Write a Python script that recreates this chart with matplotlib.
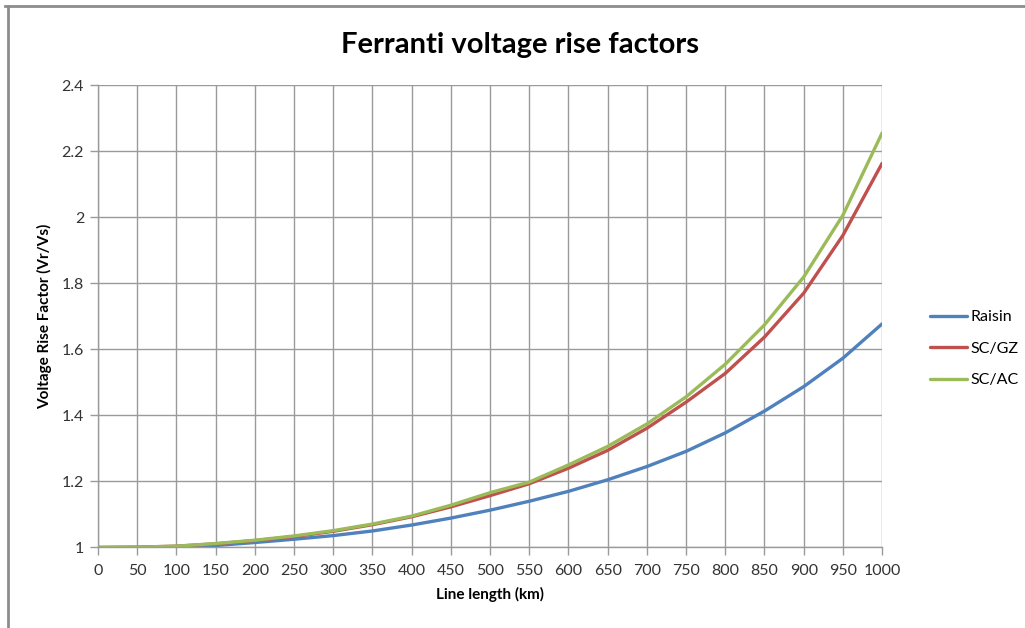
import matplotlib.pyplot as plt
from matplotlib.lines import Line2D
from matplotlib.ticker import FuncFormatter, MultipleLocator

plt.rcParams['font.family'] = ['Lato', 'DejaVu Sans']

# line length (km) and voltage rise factor Vr/Vs for each conductor type
length_km = [0, 50, 100, 150, 200, 250, 300, 350, 400, 450, 500,
             550, 600, 650, 700, 750, 800, 850, 900, 950, 1000]
raisin = [1.000, 1.000, 1.002, 1.006, 1.015, 1.025, 1.036, 1.050, 1.068, 1.089, 1.113,
          1.140, 1.170, 1.205, 1.245, 1.291, 1.347, 1.413, 1.487, 1.573, 1.677]
sc_gz = [1.000, 1.001, 1.004, 1.011, 1.021, 1.033, 1.049, 1.069, 1.093, 1.123, 1.157,
         1.193, 1.240, 1.294, 1.361, 1.440, 1.527, 1.637, 1.770, 1.945, 2.163]
sc_ac = [1.000, 1.001, 1.004, 1.012, 1.022, 1.035, 1.051, 1.071, 1.095, 1.128, 1.166,
         1.198, 1.250, 1.306, 1.374, 1.456, 1.555, 1.674, 1.819, 2.006, 2.255]

series = [("Raisin", raisin, "#4F81BD"),
          ("SC/GZ", sc_gz, "#C0504D"),
          ("SC/AC", sc_ac, "#9BBB59")]

fig = plt.figure(figsize=(10.25, 6.28), dpi=100)
ax = fig.add_axes([0.0956, 0.1282, 0.765, 0.7364])

for name, vals, col in series:
    ax.plot(length_km, vals, color=col, lw=2.4, label=name,
            solid_capstyle='round', solid_joinstyle='round')

ax.set_xlim(0, 1000)
ax.set_ylim(1, 2.4)
ax.xaxis.set_major_locator(MultipleLocator(50))
ax.yaxis.set_major_locator(MultipleLocator(0.2))
ax.yaxis.set_major_formatter(FuncFormatter(lambda v, p: f"{v:g}"))

grid_col = "#9a9a9a"
ax.grid(True, color=grid_col, lw=1.0)
ax.set_axisbelow(True)
for side in ("top", "right"):
    ax.spines[side].set_visible(False)
for side in ("left", "bottom"):
    ax.spines[side].set_color(grid_col)
    ax.spines[side].set_linewidth(1.0)
ax.tick_params(axis='both', colors=grid_col, labelcolor="#333333",
               labelsize=11.5, length=6, width=1.0)
ax.tick_params(axis='x', pad=6)
ax.tick_params(axis='y', pad=4)

ax.set_xlabel("Line length (km)", fontsize=11, fontweight='bold', labelpad=6)
fig.text(0.0439, 0.497, "Voltage Rise Factor (Vr/Vs)", rotation=90,
         ha='center', va='center', fontsize=11, fontweight='bold')

fig.text(0.507, 0.928, "Ferranti voltage rise factors", ha='center', va='center',
         fontsize=21, fontweight='bold')

ax.legend(loc='center left', bbox_to_anchor=(1.043, 0.43), frameon=False,
          fontsize=11.5, handlelength=2.3, handletextpad=0.2, labelspacing=1.08)

# chart frame edges
frame = "#8c8c8c"
fig.add_artist(Line2D([0.005, 1.0], [0.990, 0.990], color=frame, lw=2.0,
                      transform=fig.transFigure))
fig.add_artist(Line2D([0.0078, 0.0078], [0.0, 0.990], color=frame, lw=2.0,
                      transform=fig.transFigure))

fig.savefig("out.png", dpi=100)
